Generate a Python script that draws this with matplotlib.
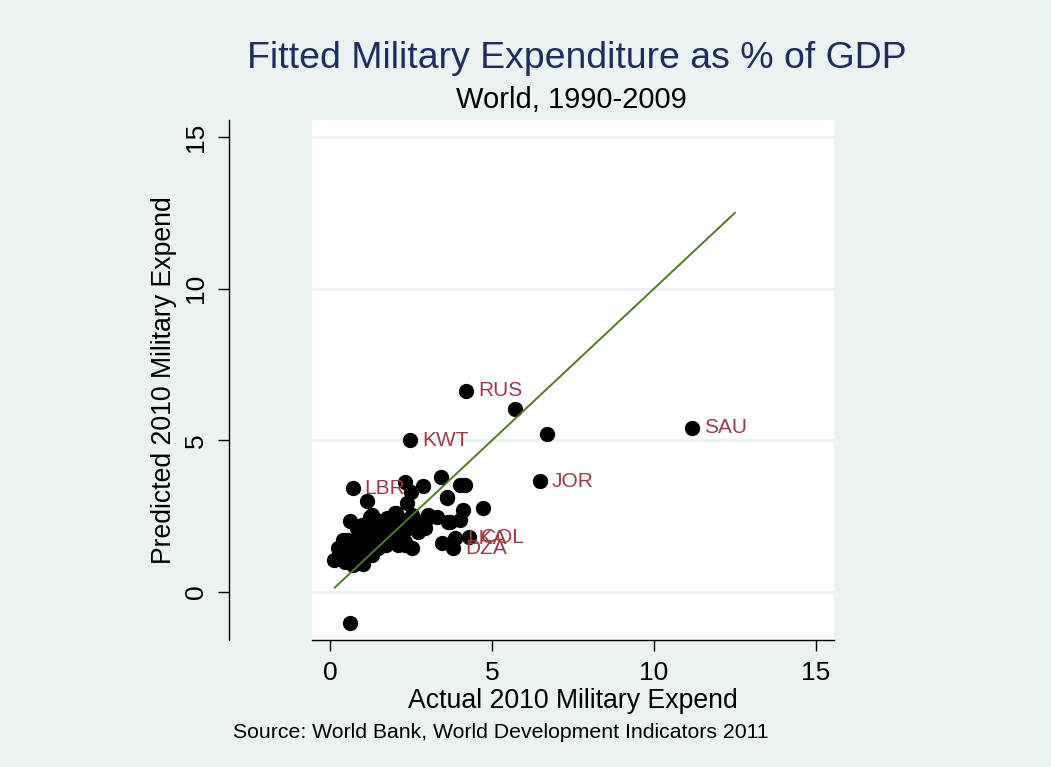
import matplotlib
matplotlib.use("Agg")
import matplotlib.pyplot as plt

plt.rcParams['font.family'] = ['Liberation Sans', 'DejaVu Sans']

# Actual vs predicted 2010 military expenditure (% of GDP)
actual = [4.20, 11.17, 2.47, 6.48, 0.70, 5.71, 6.70, 0.62, 4.29, 3.86, 3.80,
          2.31, 2.86, 3.43, 4.01, 4.17, 2.50, 2.37, 4.73, 4.11, 4.01, 3.70,
          3.03, 2.57, 2.93, 3.45, 2.52, 1.13, 1.29, 0.62, 0.82, 0.41, 0.13,
          1.03, 2.31, 1.70, 2.04, 3.62, 2.98, 2.68,
          0.25, 0.37, 0.46, 0.56, 0.62, 0.68, 0.77, 0.83, 0.86, 0.93, 0.99,
          1.05, 1.11, 1.17, 1.23, 1.30, 1.36, 1.42, 1.48, 1.54, 1.60, 1.67,
          1.73, 1.79, 1.85, 1.91, 1.98, 2.04, 2.10, 2.16, 2.22, 2.31, 0.46,
          0.71, 0.31, 0.99, 1.42, 1.76, 2.01, 2.25, 1.60, 2.31, 2.72, 2.52,
          3.02, 3.29, 3.60, 3.64, 1.23, 2.35]
predicted = [6.63, 5.41, 5.01, 3.66, 3.42, 6.03, 5.21, -1.02, 1.81, 1.78, 1.45,
             3.64, 3.49, 3.80, 3.53, 3.53, 3.31, 2.94, 2.76, 2.70, 2.37, 2.32,
             2.54, 2.15, 2.10, 1.61, 1.44, 3.01, 2.54, 2.35, 2.10, 1.71, 1.06,
             0.92, 1.55, 2.27, 2.59, 3.12, 2.48, 2.27,
             1.45, 1.55, 1.29, 1.71, 1.12, 1.48, 1.32, 1.71, 1.06, 1.55, 1.88,
             1.32, 1.71, 1.45, 2.04, 1.22, 1.71, 1.98, 1.45, 2.21, 1.71, 2.04,
             1.55, 1.88, 2.11, 1.71, 2.21, 1.95, 1.55, 2.11, 1.88, 2.04, 0.99,
             0.89, 1.15, 2.21, 2.37, 2.44, 2.60, 2.37, 2.32, 1.66, 1.99, 2.54,
             2.44, 2.48, 3.10, 2.32, 2.48, 2.27]

labels = ["RUS", "SAU", "KWT", "JOR", "LBR", "COL", "LKA", "DZA"]
label_x = [4.20, 11.17, 2.47, 6.48, 0.70, 4.29, 3.86, 3.80]
label_y = [6.63, 5.41, 5.01, 3.66, 3.42, 1.81, 1.78, 1.45]

fit_x = [0.15, 12.5]
fit_y = [0.15, 12.5]

xticks = [0, 5, 10, 15]
yticks = [0, 5, 10, 15]

W, H = 1051, 767
bg = '#EAF2F3'
fig = plt.figure(figsize=(W / 100, H / 100), dpi=100, facecolor=bg)
ax = fig.add_axes([312 / W, (H - 640) / H, (834 - 312) / W, (640 - 120) / H])
ax.set_facecolor('white')

ax.set_xlim(-0.556, 15.56)
ax.set_ylim(-1.58, 15.56)

for yv in yticks:
    ax.axhline(yv, color=bg, lw=2.2, zorder=0)

ax.plot(actual, predicted, 'o', color='black', ms=10, zorder=2)
ax.plot(fit_x, fit_y, color='#4F7A26', lw=1.4, zorder=3)

for t, xv, yv in zip(labels, label_x, label_y):
    ax.annotate(t, (xv, yv), xytext=(8.5, 0), textcoords='offset points',
                va='center', ha='left', fontsize=15, color='#9C3B44', zorder=4)

for s in ['top', 'right']:
    ax.spines[s].set_visible(False)
ax.spines['left'].set_position(('outward', 59.8))
ax.spines['left'].set_linewidth(1.0)
ax.spines['bottom'].set_linewidth(1.0)

ax.set_xticks(xticks)
ax.set_yticks(yticks)
ax.tick_params(axis='both', direction='out', length=8, width=1.0,
               labelsize=19, pad=7)
for lab in ax.get_yticklabels():
    lab.set_rotation(90)
    lab.set_va('center')

ax.set_xlabel('Actual 2010 Military Expend', fontsize=19.2, labelpad=2)
ax.set_ylabel('Predicted 2010 Military Expend', fontsize=19.2, labelpad=5)

fig.text(577 / W, 1 - 58 / H, 'Fitted Military Expenditure as % of GDP',
         ha='center', va='center', fontsize=26.9, color='#1E2D5A')
fig.text(571 / W, 1 - 100 / H, 'World, 1990-2009',
         ha='center', va='center', fontsize=21, color='black')
fig.text(233 / W, 1 - 733 / H,
         'Source: World Bank, World Development Indicators 2011',
         ha='left', va='center', fontsize=15.3, color='black')

fig.savefig('out.png', dpi=100, facecolor=bg)
